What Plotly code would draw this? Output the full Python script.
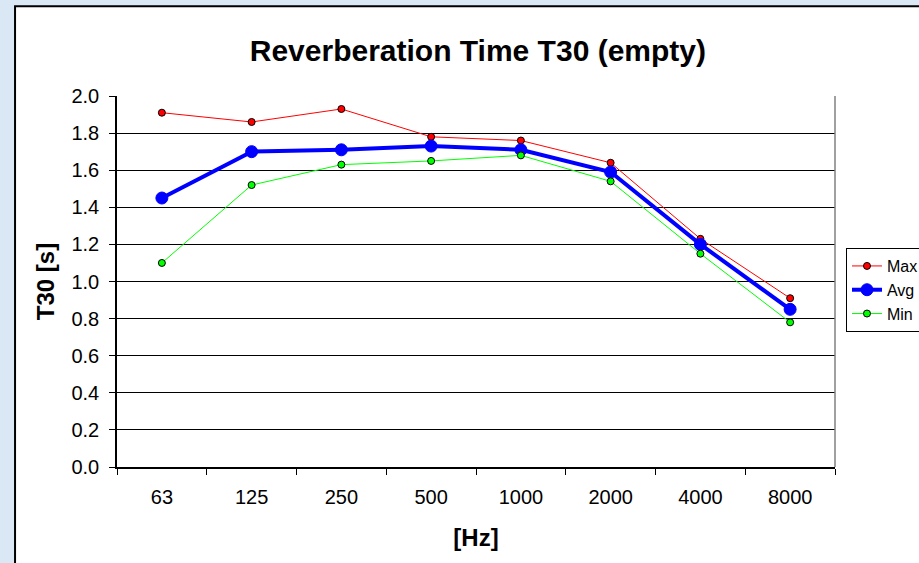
import plotly.graph_objects as go

freqs = ["63", "125", "250", "500", "1000", "2000", "4000", "8000"]
t30_max = [1.91, 1.86, 1.93, 1.78, 1.76, 1.64, 1.23, 0.91]
t30_avg = [1.45, 1.70, 1.71, 1.73, 1.71, 1.59, 1.20, 0.85]
t30_min = [1.10, 1.52, 1.63, 1.65, 1.68, 1.54, 1.15, 0.78]
y_ticks = [0.0, 0.2, 0.4, 0.6, 0.8, 1.0, 1.2, 1.4, 1.6, 1.8, 2.0]

FONT = "Liberation Sans, Arial, sans-serif"

fig = go.Figure()
fig.add_trace(go.Scatter(
    x=freqs, y=t30_max, name="Max", mode="lines+markers",
    line=dict(color="#ff0000", width=1),
    marker=dict(color="#ff0000", size=7, line=dict(color="#000000", width=1)),
))
fig.add_trace(go.Scatter(
    x=freqs, y=t30_avg, name="Avg", mode="lines+markers",
    line=dict(color="#0000ff", width=4),
    marker=dict(color="#0000ff", size=12, line=dict(color="#0000ff", width=1)),
))
fig.add_trace(go.Scatter(
    x=freqs, y=t30_min, name="Min", mode="lines+markers",
    line=dict(color="#00ff00", width=1),
    marker=dict(color="#00ff00", size=7, line=dict(color="#000000", width=1)),
))

# white chart frame on a light blue page
fig.add_shape(type="rect", xref="paper", yref="paper", layer="below",
              x0=-0.142, x1=1.2, y0=-0.4, y1=1.242,
              fillcolor="#ffffff", line=dict(color="#000000", width=2))
# right edge of the plot area
fig.add_shape(type="line", xref="paper", yref="paper",
              x0=1, x1=1, y0=0, y1=1, line=dict(color="#808080", width=1.5))

fig.update_layout(
    width=919, height=563,
    margin=dict(l=117, r=84, t=96, b=96, autoexpand=False),
    paper_bgcolor="#dae7f4",
    plot_bgcolor="#ffffff",
    font=dict(family=FONT, color="#000000", size=20),
    title=dict(text="<b>Reverberation Time T30 (empty)</b>", x=0.52, xanchor="center",
               y=0.911, yanchor="middle", font=dict(size=30, family=FONT)),
    showlegend=True,
    legend=dict(x=1.0153, xanchor="left", y=0.477, yanchor="middle",
                bgcolor="#ffffff", bordercolor="#000000", borderwidth=1,
                font=dict(size=16, family=FONT), tracegroupgap=0,
                itemwidth=30),
    xaxis=dict(
        type="category", range=[-0.5, 7.5], tickson="boundaries",
        ticks="outside", ticklen=6, tickcolor="#000000",
        showline=True, linecolor="#000000", linewidth=1.5,
        showgrid=False, zeroline=False, ticklabelstandoff=11,
        title=dict(text="<b>[Hz]</b>", font=dict(size=24, family=FONT), standoff=22),
    ),
    yaxis=dict(
        range=[0, 2.0], tickvals=y_ticks, tickformat=".1f",
        ticks="outside", ticklen=6, tickcolor="#000000",
        showline=True, linecolor="#000000", linewidth=1.5,
        showgrid=True, gridcolor="#000000", gridwidth=1, zeroline=False,
        ticklabelstandoff=6,
        title=dict(text="<b>T30 [s]</b>", font=dict(size=24, family=FONT), standoff=10),
    ),
)

fig.write_html("out.html")
